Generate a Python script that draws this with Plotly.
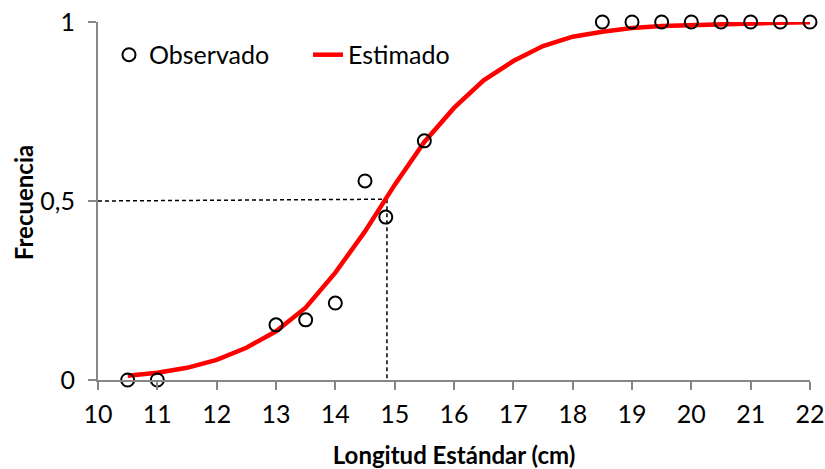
import plotly.graph_objects as go

# Observed data
obs_x = [10.5, 11, 13, 13.5, 14, 14.5, 14.85, 15.5, 18.5, 19, 19.5, 20, 20.5, 21, 21.5, 22]
obs_y = [0, 0, 0.154, 0.168, 0.215, 0.556, 0.455, 0.668, 1, 1, 1, 1, 1, 1, 1, 1]

# Estimated curve
est_x = [10.5, 11, 11.5, 12, 12.5, 13, 13.5, 14, 14.5, 15, 15.5, 16, 16.5, 17, 17.5, 18,
         18.5, 19, 19.5, 20, 20.5, 21, 21.5, 22]
est_y = [0.012, 0.02, 0.034, 0.056, 0.09, 0.136, 0.202, 0.30, 0.415, 0.545, 0.665, 0.76,
         0.837, 0.891, 0.933, 0.959, 0.973, 0.983, 0.989, 0.992, 0.995, 0.997, 0.998, 0.999]

# L50 reference lines
l50_hx = [10, 14.87]
l50_hy = [0.5, 0.505]
l50_vx = [14.87, 14.87]
l50_vy = [0.505, 0]

x_ticks = [10, 11, 12, 13, 14, 15, 16, 17, 18, 19, 20, 21, 22]
y_ticks = [0, 0.5, 1]
y_ticktext = ["0", "0,5", "1"]

FONT = "Lato"
GRAY = "#868686"

W, H = 825, 469
ML, MR, MT, MB = 98, 15, 22, 89
PW = W - ML - MR
PH = H - MT - MB

fig = go.Figure()
fig.add_trace(go.Scatter(x=l50_hx, y=l50_hy, mode="lines", showlegend=False,
                         line=dict(color="black", width=1.5, dash="4px,3px"), hoverinfo="skip"))
fig.add_trace(go.Scatter(x=l50_vx, y=l50_vy, mode="lines", showlegend=False,
                         line=dict(color="black", width=1.5, dash="4px,3px"), hoverinfo="skip"))
fig.add_trace(go.Scatter(x=est_x, y=est_y, mode="lines", name="Estimado", legend="legend2",
                         line=dict(color="#ff0000", width=4.5), cliponaxis=False))
fig.add_trace(go.Scatter(x=obs_x, y=obs_y, mode="markers", name="Observado", legend="legend",
                         marker=dict(symbol="circle-open", size=13, color="black",
                                     line=dict(width=2, color="black")),
                         cliponaxis=False))

ymid = 0.908
fig.update_layout(
    width=W, height=H,
    margin=dict(l=ML, r=MR, t=MT, b=MB),
    paper_bgcolor="white", plot_bgcolor="white",
    font=dict(family=FONT, size=25, color="black"),
    showlegend=True,
    legend=dict(orientation="h", x=(109 - 98) / PW, y=ymid, xanchor="left", yanchor="middle",
                font=dict(family=FONT, size=25, color="black"),
                bgcolor="rgba(0,0,0,0)"),
    legend2=dict(orientation="h", x=(308 - 98) / PW, y=ymid, xanchor="left", yanchor="middle",
                 font=dict(family=FONT, size=25, color="black"),
                 bgcolor="rgba(0,0,0,0)"),
    annotations=[
        dict(text="<b>Frecuencia</b>", xref="paper", yref="paper",
             x=(23 - 98) / PW, y=0.494, xanchor="center", yanchor="middle",
             textangle=-90, showarrow=False,
             font=dict(family=FONT, size=24, color="black")),
    ],
)
fig.update_xaxes(range=[10, 22], tickvals=x_ticks, showgrid=False, zeroline=False,
                 showline=True, linecolor=GRAY, linewidth=2, ticks="outside",
                 ticklen=8, tickwidth=2, tickcolor=GRAY, ticklabelstandoff=3,
                 automargin=False, ticklabeloverflow="allow",
                 tickfont=dict(family=FONT, size=25, color="black"),
                 title=dict(text="<b>Longitud Estándar (cm)</b>", standoff=21,
                            font=dict(family=FONT, size=24, color="black")))
fig.update_yaxes(range=[0, 1], tickvals=y_ticks, ticktext=y_ticktext, showgrid=False,
                 zeroline=False, showline=True, linecolor=GRAY, linewidth=2,
                 ticks="outside", ticklen=8, tickwidth=2, tickcolor=GRAY,
                 ticklabelstandoff=8, automargin=False, ticklabeloverflow="allow",
                 tickfont=dict(family=FONT, size=25, color="black"))

fig.write_html("out.html", config={"displayModeBar": False},
               post_script="document.body.style.margin='0';document.body.style.overflow='hidden';")
